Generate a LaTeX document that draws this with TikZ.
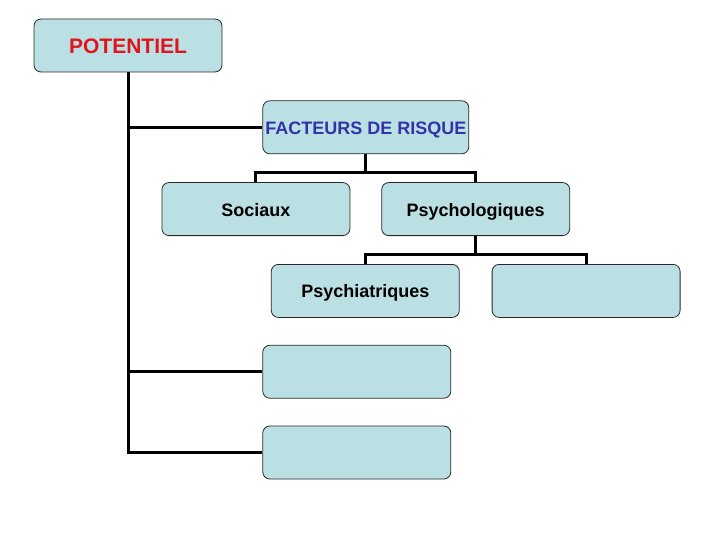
\documentclass[tikz,border=0pt]{standalone}
\usepackage{fontspec}
\setmainfont{Liberation Sans}
\usepackage{tikz}
\usetikzlibrary{positioning}

\definecolor{boxfill}{RGB}{187,224,227}
\definecolor{boxline}{RGB}{40,40,40}
\definecolor{titlered}{RGB}{225,20,30}
\definecolor{titleblue}{RGB}{50,50,170}

\begin{document}
\begin{tikzpicture}[
  box/.style={rectangle, draw=boxline, fill=boxfill, line width=0.8pt, minimum width=188pt, minimum height=53pt, text height=14pt, text depth=0pt, align=center, rounded corners=7pt, font=\fontsize{18}{21}\selectfont\bfseries},
  link/.style={line width=3pt, black}
]
\useasboundingbox (0,0) rectangle (720pt,-540pt);

\node[box, font=\fontsize{21}{24}\selectfont\bfseries, text=titlered, text height=16pt] (potentiel) at (128pt,-45.5pt) {POTENTIEL};
\node[box, text=titleblue, minimum width=206pt, inner xsep=1pt, anchor=north west] (facteurs) at ([shift={(40pt,-28pt)}]potentiel.south east) {FACTEURS DE RISQUE};
\node[box, below left=28pt and 15.5pt of facteurs.south] (sociaux) {Sociaux};
\node[box, below right=28pt and 15.5pt of facteurs.south] (psycho) {Psychologiques};
\node[box, below left=28pt and 16pt of psycho.south] (psychiatrie) {Psychiatriques};
\node[box, below right=28pt and 16pt of psycho.south] (vide1) {};
\node[box, anchor=north west] (vide2) at ([yshift=-27pt]psychiatrie.south -| facteurs.west) {};
\node[box, below=27pt of vide2] (vide3) {};

% tronc principal
\draw[link] (potentiel.south) |- (facteurs.west);
\draw[link] (potentiel.south) |- (vide2.west);
\draw[link] (potentiel.south) |- (vide3.west);

% facteurs de risque
\draw[link] (facteurs.south) -- ++(0,-18pt) -| (sociaux.north);
\draw[link] (facteurs.south) -- ++(0,-18pt) -| (psycho.north);
\draw[link] (psycho.south) -- ++(0,-18pt) -| (psychiatrie.north);
\draw[link] (psycho.south) -- ++(0,-18pt) -| (vide1.north);

\end{tikzpicture}
\end{document}
